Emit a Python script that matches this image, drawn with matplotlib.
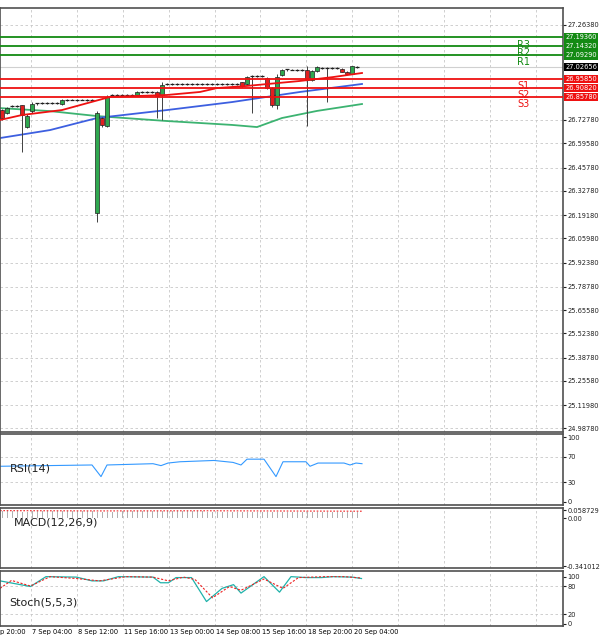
import matplotlib
matplotlib.use("Agg")
import matplotlib.pyplot as plt
import numpy as np

# ---------------- data ----------------
opens = [26.784,26.767,26.805,26.808,26.81,26.69,26.78,26.82,26.822,26.824,26.822,26.825,26.82,26.84,26.842,26.84,26.843,26.841,26.842,
         26.203,26.739,26.695,26.868,26.867,26.869,26.868,26.867,26.869,26.886,26.887,26.885,26.886,26.869,
         26.93,26.931,26.929,26.93,26.932,26.93,26.931,26.929,26.93,26.932,26.933,26.931,26.93,26.932,26.933,
         26.94,26.93,26.975,26.976,26.974,26.965,26.908,26.812,26.98,27.012,27.013,27.011,27.012,27.01,26.955,27.005,
         27.022,27.023,27.021,27.022,27.015,27.0,26.99,27.027]
highs = [26.79,26.80,26.812,26.815,26.815,26.76,26.83,26.826,26.83,26.83,26.828,26.83,26.845,26.845,26.848,26.846,26.848,26.846,26.846,
         26.78,26.745,26.87,26.873,26.872,26.874,26.873,26.872,26.89,26.891,26.892,26.89,26.89,26.94,
         26.936,26.936,26.934,26.935,26.937,26.935,26.936,26.934,26.935,26.937,26.938,26.936,26.935,26.937,26.938,
         26.945,26.975,26.98,26.981,26.979,26.97,26.915,26.985,27.015,27.017,27.018,27.016,27.017,27.03,27.01,27.03,
         27.027,27.028,27.026,27.027,27.02,27.005,27.035,27.032]
lows = [26.73,26.76,26.80,26.80,26.547,26.68,26.77,26.815,26.818,26.82,26.818,26.82,26.815,26.835,26.838,26.836,26.838,26.836,26.835,
        26.152,26.69,26.69,26.863,26.862,26.864,26.863,26.862,26.865,26.881,26.882,26.88,26.739,26.728,
        26.925,26.926,26.924,26.925,26.927,26.925,26.926,26.924,26.925,26.927,26.928,26.926,26.925,26.927,26.928,
        26.915,26.925,26.767,26.971,26.969,26.90,26.80,26.79,26.975,27.007,27.008,27.006,27.007,26.694,26.95,27.0,
        27.017,26.83,27.016,27.017,27.0,26.985,26.985,27.022]
closes = [26.739,26.795,26.808,26.806,26.757,26.75,26.82,26.822,26.824,26.822,26.825,26.826,26.84,26.842,26.84,26.843,26.841,26.842,26.84,
          26.77,26.70,26.858,26.867,26.869,26.868,26.867,26.869,26.886,26.887,26.885,26.886,26.865,26.925,
          26.931,26.929,26.93,26.932,26.93,26.931,26.929,26.93,26.932,26.933,26.931,26.93,26.932,26.933,26.931,
          26.92,26.97,26.976,26.974,26.975,26.908,26.812,26.97,27.01,27.013,27.011,27.012,27.012,26.955,27.005,27.025,
          27.023,27.021,27.022,27.021,27.0,26.99,27.03,27.028]

ma_fast_x = [-0.4,4,12,21.6,33,39.6,43,49,59.6,66.2,72]
ma_fast_y = [26.728,26.756,26.784,26.858,26.869,26.886,26.908,26.920,26.948,26.970,26.993]
ma_mid_x = [-0.4,9.6,19,33,46,59.6,72]
ma_mid_y = [26.626,26.671,26.739,26.784,26.829,26.886,26.931]
ma_slow_x = [-0.4,9.6,19,33,46,51,56,63,72]
ma_slow_y = [26.795,26.778,26.750,26.722,26.700,26.688,26.739,26.779,26.818]

levels = {"R3": 27.1936, "R2": 27.1432, "R1": 27.0929, "S1": 26.9585, "S2": 26.9082, "S3": 26.8578}
current_price = 27.02656

price_ticks = [27.26380,26.72780,26.59580,26.45780,26.32780,26.19180,26.05980,25.92380,25.78780,
               25.65580,25.52380,25.38780,25.25580,25.11980,24.98780]

rsi_x = [-0.4,18,19.8,21,30.2,31.8,33.2,35.6,42.4,46.2,47.8,49,52.4,54.8,56.2,60.8,61.6,63.2,68.4,69.6,70.8,72]
rsi_y = [55,57,39,57,59,56,60,62,64,61,57,66,66,39,62,62,55,60,60,57,60,59]

stk_x = [-0.4,5.7,8.8,14.9,18,20.3,23.3,30.2,31.7,33.3,34.8,37.9,40.9,44,46.3,47.8,52.4,55.5,57.8,60.8,63.9,66.2,70,71.9]
stk_y = [91,79,100,99,91,91,100,99,87,87,98,98,47,75,83,65,100,67,100,98,98,100,99,96]
std_x = [-0.4,1.9,5.7,9.6,14.9,19.5,24.9,30.2,33.3,36.3,38.6,42.1,45.5,47.8,52.4,56.2,59.3,64.7,68.5,71.9]
std_y = [75,92,80,100,96,91,100,99,91,99,94,55,79,71,95,75,98,100,100,97]

macd_hist = [0.050,0.051,0.050,0.052,0.049,0.048,0.050,0.051,0.052,0.051,0.052,0.053,0.052,0.053,0.052,0.053,0.052,0.051,0.050,
             0.044,0.043,0.046,0.048,0.049,0.050,0.050,0.051,0.052,0.052,0.053,0.052,0.051,0.052,
             0.053,0.053,0.052,0.052,0.051,0.051,0.050,0.050,0.049,0.049,0.049,0.048,0.048,0.048,0.047,
             0.047,0.048,0.048,0.048,0.047,0.046,0.045,0.046,0.047,0.048,0.048,0.049,0.049,0.047,0.048,0.049,
             0.049,0.049,0.048,0.048,0.048,0.047,0.048,0.048]
macd_sig_x = [-0.4,20,40,72]
macd_sig_y = [0.056,0.054,0.055,0.052]

time_ticks = [5.7,14.9,24.1,33.3,42.5,51.6,60.8,70.0]
time_labels = ["7 Sep 04:00","8 Sep 12:00","11 Sep 16:00","13 Sep 00:00","14 Sep 08:00",
               "15 Sep 16:00","18 Sep 20:00","20 Sep 04:00"]

# ---------------- layout ----------------
W, H = 600, 638
fig = plt.figure(figsize=(W/100, H/100), dpi=100)
fig.patch.set_facecolor("white")
RIGHT = 563

def axes_px(top, bottom):
    return fig.add_axes([0, 1 - bottom/H, RIGHT/W, (bottom-top)/H])

XL = (-0.4, 112.2)
grid_x = time_ticks + [79.2, 88.4, 97.6, 106.8]
GRID = dict(color="#c8c8c8", lw=0.6, ls=(0, (3, 3)))
FS = 4.8

def style(ax):
    ax.set_xlim(*XL)
    for s in ax.spines.values():
        s.set_color("#505050"); s.set_linewidth(1.2)
    ax.yaxis.tick_right()
    ax.tick_params(axis="y", labelsize=FS, length=2, pad=1, colors="#202020")
    ax.tick_params(axis="x", length=0, labelbottom=False)
    for gx in grid_x:
        ax.axvline(gx, **GRID, zorder=0)

# main
ax = axes_px(8, 432)
style(ax)
ax.set_ylim(24.9675, 27.3597)
ax.set_yticks(price_ticks)
ax.set_yticklabels([f"{v:.5f}" for v in price_ticks])
for v in price_ticks:
    ax.axhline(v, **GRID, zorder=0)

idx = np.arange(len(opens))
for i in idx:
    o, h, l, c = opens[i], highs[i], lows[i], closes[i]
    ax.vlines(i, l, h, color="#404040", lw=0.7, zorder=3)
    if abs(c - o) < 0.006:
        ax.hlines(c, i-0.35, i+0.35, color="#202020", lw=0.9, zorder=4)
    else:
        col = "#2fa84f" if c > o else "#e02020"
        ax.bar(i, abs(c-o), bottom=min(o, c), width=0.7, color=col,
               edgecolor="#202020", lw=0.5, zorder=4)

ax.plot(ma_slow_x, ma_slow_y, color="#3cb371", lw=1.3, zorder=2)
ax.plot(ma_mid_x, ma_mid_y, color="#3d5fe0", lw=1.3, zorder=2)
ax.plot(ma_fast_x, ma_fast_y, color="#ee1111", lw=1.3, zorder=5)

ax.axhline(current_price, color="#d0d0d0", lw=0.8, zorder=1)
for name, v in levels.items():
    col = "#138a13" if name.startswith("R") else "#ee1111"
    ax.axhline(v, color=col, lw=1.3, zorder=6)
    ax.text(104.4, v - 0.012, name, color=col, fontsize=7, ha="center", va="top", zorder=7)
    ax.text(1.004, v, f"{v:.5f}", transform=ax.get_yaxis_transform(), fontsize=FS,
            color="white", va="center", ha="left", clip_on=False, zorder=8,
            bbox=dict(boxstyle="square,pad=0.2", fc=col, ec="none"))
ax.text(1.004, current_price, f"{current_price:.5f}", transform=ax.get_yaxis_transform(),
        fontsize=FS, color="white", va="center", ha="left", clip_on=False, zorder=8,
        bbox=dict(boxstyle="square,pad=0.2", fc="black", ec="none"))

# RSI
ar = axes_px(434, 505)
style(ar)
ar.set_ylim(-5, 105)
ar.set_yticks([100, 70, 30, 0])
for v in [70, 30]:
    ar.axhline(v, **GRID, zorder=0)
ar.plot(rsi_x, rsi_y, color="#3399ff", lw=0.8)
ar.text(1.5, 52, "RSI(14)", fontsize=8, va="center", color="#202020")

# MACD
am = axes_px(508, 568)
style(am)
am.set_ylim(-0.355, 0.075)
am.set_yticks([0.058729, 0.0, -0.341012])
am.set_yticklabels(["0.058729", "0.00", "-0.341012"])
am.bar(idx, macd_hist, width=0.2, color="#b0b0b0")
am.plot(macd_sig_x, macd_sig_y, color="#ee2222", lw=0.8, ls=(0, (1.5, 1.5)))
am.text(2.3, 0.005, "MACD(12,26,9)", fontsize=8, va="top", color="#202020")

# Stoch
ast = axes_px(571, 626)
style(ast)
ast.set_ylim(-5, 112)
ast.set_yticks([100, 80, 20, 0])
for v in [80, 20]:
    ast.axhline(v, **GRID, zorder=0)
ast.plot(stk_x, stk_y, color="#20b2aa", lw=0.9)
ast.plot(std_x, std_y, color="#ee2222", lw=0.8, ls=(0, (2, 1.5)))
ast.text(1.5, 45, "Stoch(5,5,3)", fontsize=8, va="center", color="#202020")

# time labels
for t, lab in zip(time_ticks, time_labels):
    ast.text(t + 0.4, -0.05, lab, transform=ast.get_xaxis_transform(), fontsize=FS,
             ha="left", va="top", clip_on=False)
ast.text(-0.4, -0.05, "p 20:00", transform=ast.get_xaxis_transform(), fontsize=FS,
         ha="left", va="top", clip_on=False)

fig.savefig("out.png", dpi=100)
